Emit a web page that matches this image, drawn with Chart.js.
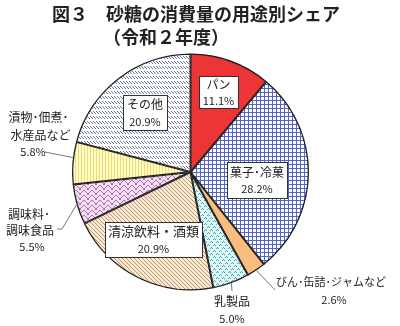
<!DOCTYPE html>
<html lang="ja">
<head>
<meta charset="utf-8">
<script src="https://cdn.jsdelivr.net/npm/chart.js@4"></script>
<style>
  html, body { margin: 0; padding: 0; background: #ffffff; }
  #wrap { width: 400px; height: 326px; position: relative; }
</style>
</head>
<body>
<div id="wrap"><canvas id="pie" width="400" height="326"></canvas></div>
<script>
// 砂糖の用途別消費シェア（令和２年度）
const categories = ['パン', '菓子･冷菓', 'びん･缶詰･ジャムなど', '乳製品', '清涼飲料･酒類', '調味料･調味食品', '漬物･佃煮･水産品など', 'その他'];
const shares = [11.1, 28.2, 2.6, 5.0, 20.9, 5.5, 5.8, 20.9];
const labelLines = [['パン'], ['菓子･冷菓'], ['びん･缶詰･ジャムなど'], ['乳製品'], ['清涼飲料・酒類'], ['調味料･', '調味食品'], ['漬物･佃煮･', '水産品など'], ['その他']];
const titleLines = ['図３　砂糖の消費量の用途別シェア', '（令和２年度）'];

const JP = '"Noto Sans CJK JP", "Noto Sans", sans-serif';

// ---- fill patterns ----
function tile(w, h, bg, paint) {
  const c = document.createElement('canvas');
  c.width = w; c.height = h;
  const g = c.getContext('2d');
  g.fillStyle = bg; g.fillRect(0, 0, w, h);
  paint(g);
  return c;
}
function px(g, color, pts) {
  g.fillStyle = color;
  pts.forEach(([x, y]) => g.fillRect(x, y, 1, 1));
}
const ctx0 = document.getElementById('pie').getContext('2d');
const pat = (c) => ctx0.createPattern(c, 'repeat');

const fills = [
  '#ee3535',
  // blue grid
  pat(tile(4, 4, '#ffffff', g => { g.fillStyle = '#5565c0'; g.fillRect(0, 0, 4, 1); g.fillRect(0, 0, 1, 4); })),
  '#f9bd7d',
  // teal dots on pale cyan
  pat(tile(6, 6, '#e2f8f8', g => px(g, '#3aa8b0', [[1, 1], [0, 2], [2, 2], [4, 4], [3, 5], [5, 5]]))),
  // tan diagonal hatch
  pat(tile(4, 4, '#f8ead6', g => px(g, '#c49868', [[0, 0], [1, 1], [2, 2], [3, 3]]))),
  // purple zigzag
  pat(tile(8, 5, '#f4def2', g => px(g, '#b070b0', [[0, 3], [1, 2], [2, 1], [3, 0], [4, 0], [5, 1], [6, 2], [7, 3], [0, 4], [7, 4]]))),
  // yellow vertical stripes
  pat(tile(3, 1, '#fffcc6', g => px(g, '#efdc78', [[0, 0]]))),
  // grey-blue short hatches in rows
  pat(tile(3, 5, '#ffffff', g => px(g, '#6a7498', [[0, 1], [1, 2], [2, 3]])))
];

// ---- label placement (offsets from pie centre, px) ----
const boxPlacement = {
  0: { dx: 28, dy: -80, w: 39, h: 32, size: 12 },
  1: { dx: 66.5, dy: 8, w: 60, h: 36, size: 12 },
  4: { dx: -37, dy: 67.5, w: 97, h: 35, size: 13 },
  7: { dx: -45.5, dy: -59.5, w: 44, h: 35, size: 12 }
};
const outsidePlacement = {
  2: { edgeDeg: 146.2, path: [[84.5, 118]], lines: [[140.5, 110]], pct: [143.5, 128], size: 11 },
  3: { edgeDeg: 159.8, path: [[41.5, 119]], lines: [[41.5, 129]], pct: [41.5, 147], size: 12 },
  5: { edgeDeg: 254, path: [[-128.5, 57], [-133.5, 57]], lines: [[-161.5, 42], [-160.5, 58]], pct: [-158.5, 75], size: 12 },
  6: { edgeDeg: 277, path: [[-145.5, -20]], lines: [[-152, -55], [-150, -37]], pct: [-157.5, -20], size: 12 }
};

const pct = v => v.toFixed(1) + '%';

const labelPlugin = {
  id: 'sliceLabels',
  afterDatasetsDraw(chart) {
    const ctx = chart.ctx;
    const arcs = chart.getDatasetMeta(0).data;
    const cx = arcs[0].x, cy = arcs[0].y, R = arcs[0].outerRadius;
    ctx.save();
    ctx.textAlign = 'center';
    ctx.textBaseline = 'middle';

    // boxed labels
    Object.entries(boxPlacement).forEach(([i, p]) => {
      const x = cx + p.dx, y = cy + p.dy;
      const bx = Math.round(x - p.w / 2) + 0.5, by = Math.round(y - p.h / 2) + 0.5;
      ctx.fillStyle = '#ffffff';
      ctx.fillRect(bx, by, p.w, p.h);
      ctx.strokeStyle = '#333333';
      ctx.lineWidth = 1;
      ctx.strokeRect(bx, by, p.w, p.h);
      ctx.fillStyle = '#222222';
      ctx.font = p.size + 'px ' + JP;
      ctx.fillText(labelLines[i][0], x, y - 8);
      ctx.font = '11px ' + JP;
      ctx.fillText(pct(shares[i]), x, y + 9);
    });

    // outside labels with leader lines
    Object.entries(outsidePlacement).forEach(([i, p]) => {
      const a = p.edgeDeg * Math.PI / 180;
      ctx.strokeStyle = '#777777';
      ctx.lineWidth = 1;
      ctx.beginPath();
      ctx.moveTo(cx + R * Math.sin(a), cy - R * Math.cos(a));
      p.path.forEach(([dx, dy]) => ctx.lineTo(cx + dx, cy + dy));
      ctx.stroke();
      ctx.fillStyle = '#222222';
      ctx.font = p.size + 'px ' + JP;
      labelLines[i].forEach((t, k) => ctx.fillText(t, cx + p.lines[k][0], cy + p.lines[k][1]));
      ctx.font = '11px ' + JP;
      ctx.fillText(pct(shares[i]), cx + p.pct[0], cy + p.pct[1]);
    });

    // title
    ctx.textAlign = 'left';
    ctx.fillStyle = '#222222';
    ctx.font = 'bold 18px ' + JP;
    ctx.fillText(titleLines[0], 52, 14);
    ctx.fillText(titleLines[1], 103, 37);
    ctx.restore();
  }
};

new Chart(document.getElementById('pie'), {
  type: 'pie',
  data: {
    labels: categories,
    datasets: [{
      data: shares,
      backgroundColor: fills,
      borderColor: '#222222',
      borderWidth: 1,
      borderAlign: 'inner'
    }]
  },
  options: {
    responsive: false,
    animation: false,
    events: [],
    layout: { padding: { top: 53.5, bottom: 35.5, left: 72, right: 91 } },
    plugins: {
      legend: { display: false },
      tooltip: { enabled: false }
    }
  },
  plugins: [labelPlugin]
});
</script>
</body>
</html>
